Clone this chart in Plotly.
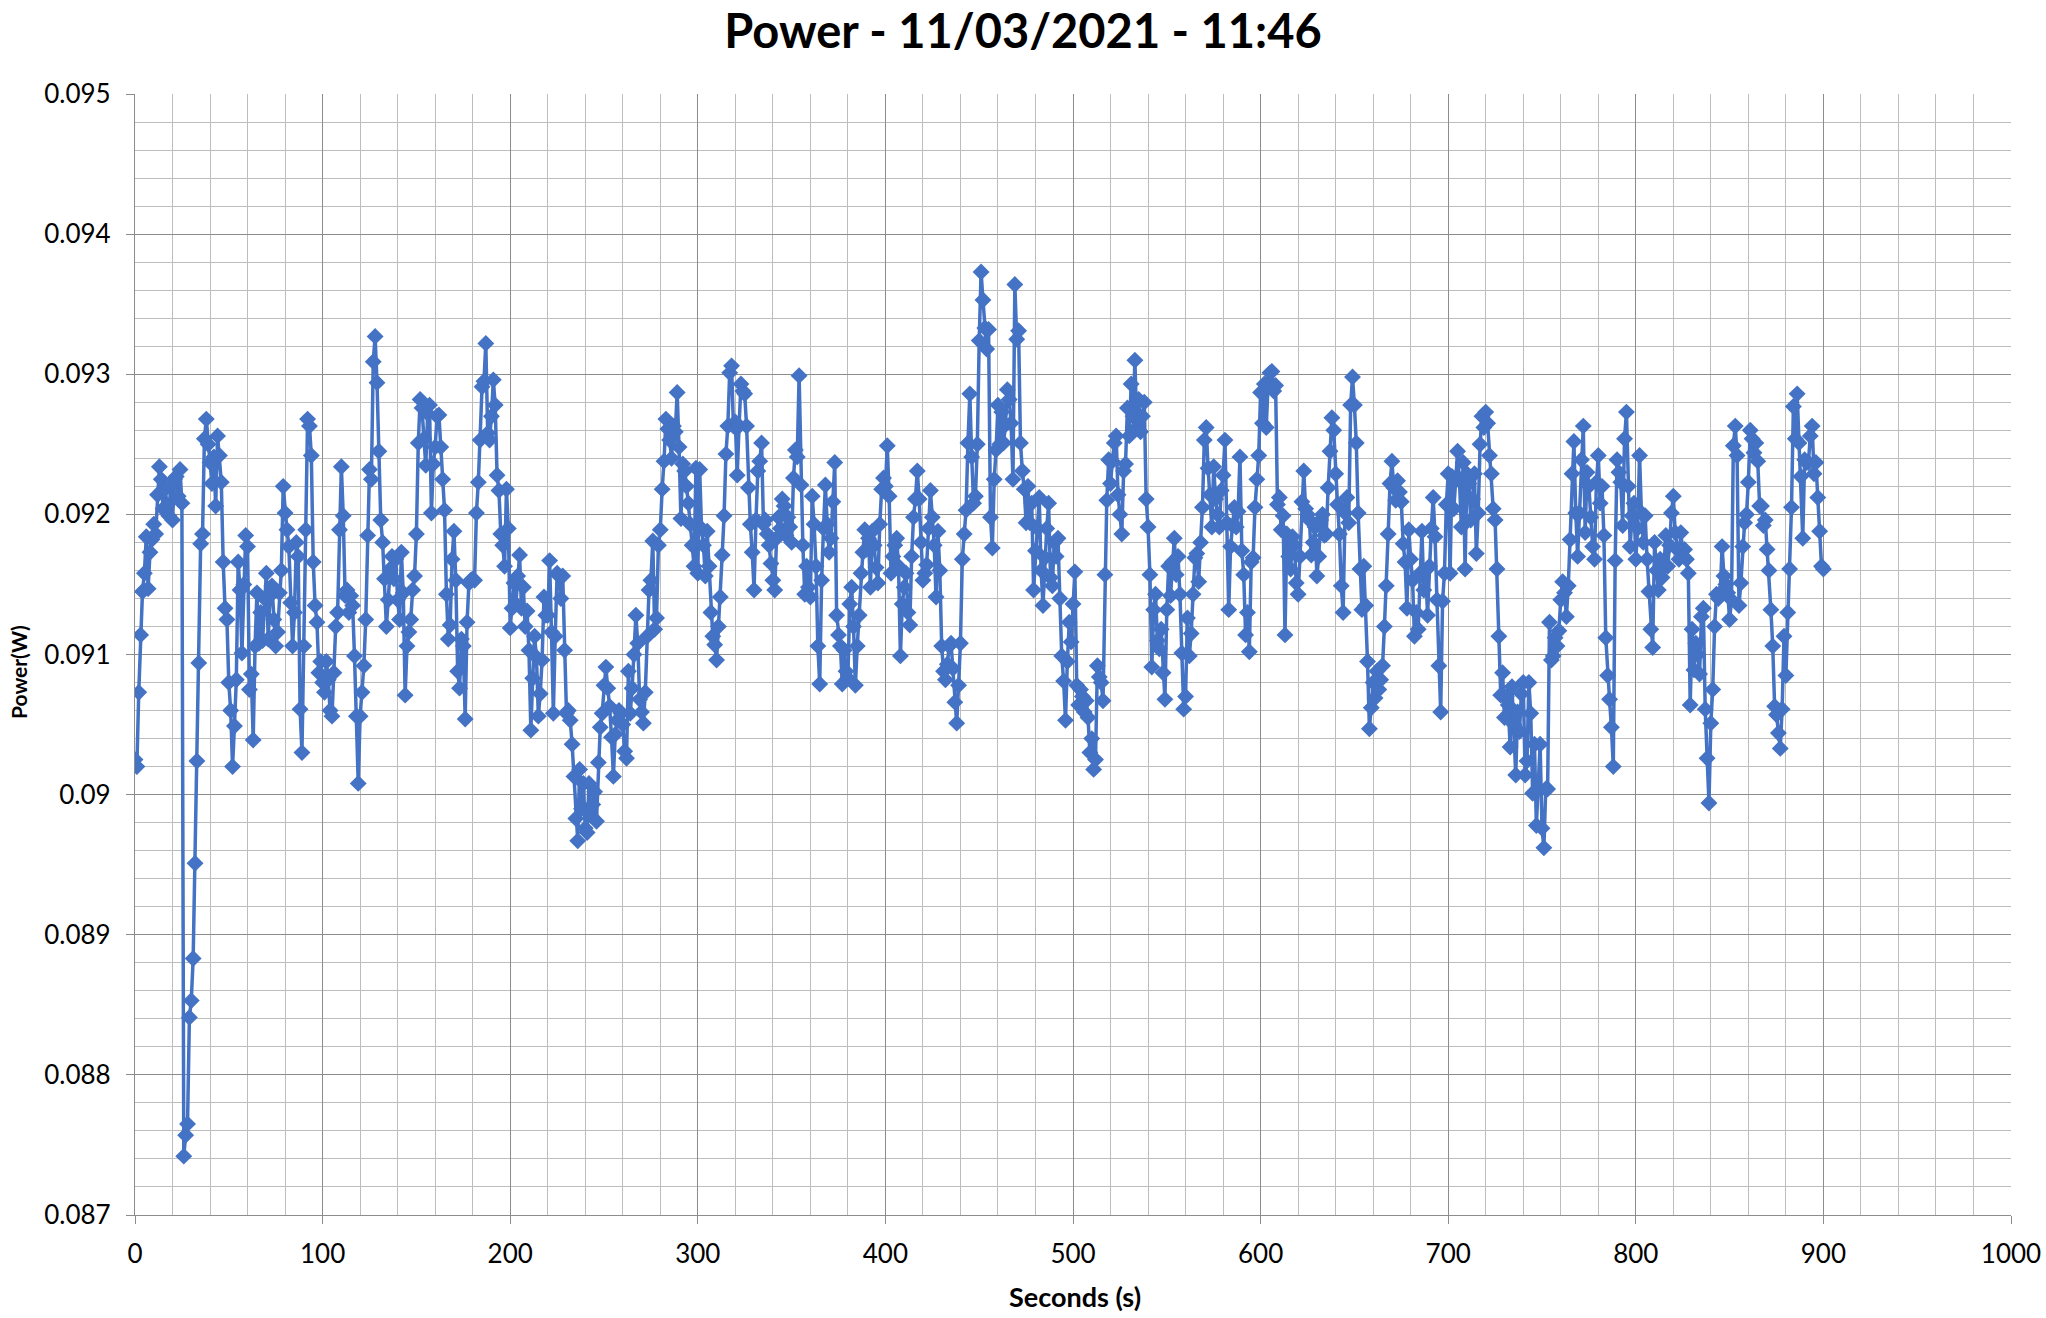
import plotly.graph_objects as go

# Power readings in microwatts, one per second
p000 = [90250, 90200, 90730, 91140, 91450, 91580, 91840, 91470, 91730, 91820,
        91930, 91860, 92140, 92340, 92250, 92040, 92180, 92060, 91990, 92200,
        91960, 92250, 92270, 92130, 92320, 92080, 87420, 87570, 87650, 88410,
        88530, 88830, 89510, 90240, 90940, 91790, 91860, 92540, 92680, 92500,
        92370, 92220, 92410, 92060, 92560, 92420, 92230, 91660, 91330, 91250,
        90800, 90600, 90200, 90490, 90820, 91660, 91460, 91010, 91500, 91850,
        91770, 90750, 90860, 90390, 91060, 91440, 91080, 91300, 91100, 91400,
        91580, 91110, 91420, 91490, 91250, 91060, 91160, 91440, 91600, 92200,
        92010, 91890, 91770, 91370, 91060, 91300, 91800, 91700, 90610, 90300,
        91060, 91890, 92680, 92630, 92420, 91660, 91350, 91230, 90870, 90950]
p100 = [90800, 90730, 90950, 90820, 90600, 90560, 90870, 91200, 91300, 91890,
        92340, 91990, 91420, 91460, 91300, 91420, 91350, 90990, 90560, 90080,
        90560, 90730, 90920, 91250, 91850, 92320, 92250, 93090, 93270, 92940,
        92450, 91960, 91800, 91540, 91200, 91390, 91610, 91700, 91540, 91680,
        91390, 91250, 91730, 91440, 90710, 91060, 91160, 91250, 91460, 91560,
        91860, 92510, 92820, 92760, 92540, 92350, 92720, 92780, 92010, 92360,
        92480, 92700, 92710, 92480, 92250, 92030, 91430, 91110, 91210, 91680,
        91880, 91530, 90880, 90760, 91110, 91060, 90540, 91230, 91510, 91530,
        91540, 91530, 92010, 92230, 92530, 92910, 92950, 93220, 92580, 92530,
        92700, 92960, 92780, 92280, 92170, 91860, 91780, 91630, 92180, 91900]
p200 = [91190, 91330, 91510, 91360, 91560, 91710, 91330, 91480, 91200, 91310,
        91030, 90460, 90830, 91130, 90980, 90560, 90720, 90960, 91410, 91280,
        91280, 91670, 91160, 90580, 91130, 91580, 91560, 91400, 91560, 91030,
        90580, 90600, 90530, 90360, 90130, 89830, 89670, 90180, 89900, 90080,
        89760, 89730, 90080, 89850, 89930, 90020, 89810, 90230, 90480, 90580,
        90780, 90910, 90760, 90630, 90410, 90130, 90430, 90530, 90600, 90580,
        90500, 90310, 90260, 90880, 90580, 90760, 91000, 91280, 91080, 90680,
        90590, 90510, 90730, 91130, 91460, 91530, 91810, 91180, 91260, 91780,
        91890, 92180, 92380, 92680, 92610, 92530, 92400, 92630, 92590, 92870,
        92480, 91970, 92360, 92310, 92200, 92080, 91930, 91780, 91630, 92330]
p300 = [91580, 92320, 91900, 91780, 91560, 91880, 91630, 91300, 91130, 91070,
        90960, 91200, 91410, 91710, 91990, 92430, 92630, 93010, 93060, 92630,
        92660, 92280, 92630, 92930, 92880, 92860, 92630, 92190, 91930, 91730,
        91460, 91960, 92310, 92380, 92510, 91930, 91960, 91860, 91780, 91650,
        91530, 91460, 91830, 91980, 91900, 92110, 92060, 91850, 91980, 91910,
        91800, 92260, 92460, 92410, 92990, 92210, 91780, 91430, 91630, 91480,
        91410, 92130, 91930, 91630, 91060, 90790, 91530, 91900, 92210, 91930,
        91730, 91830, 92090, 92370, 91280, 91140, 91060, 90790, 91030, 90880,
        90830, 91360, 91480, 91200, 90780, 91060, 91280, 91580, 91730, 91890,
        91750, 91830, 91480, 91880, 91780, 91620, 91510, 91930, 92180, 92260]
p400 = [92200, 92490, 92130, 91580, 91700, 91780, 91830, 91630, 90990, 91360,
        91480, 91580, 91300, 91210, 91700, 91980, 92110, 92310, 92110, 91800,
        91530, 91580, 91640, 91900, 92170, 91980, 91780, 91410, 91880, 91600,
        91060, 90880, 90820, 90930, 91060, 91080, 90900, 90660, 90510, 90780,
        91080, 91680, 91860, 92030, 92510, 92860, 92410, 92080, 92130, 92500,
        93240, 93730, 93530, 93330, 93180, 93320, 91980, 91760, 92250, 92460,
        92780, 92500, 92730, 92510, 92640, 92890, 92820, 92650, 92250, 93640,
        93250, 93310, 92510, 92310, 92180, 91940, 92200, 91940, 92080, 91460,
        91740, 91900, 92120, 91600, 91350, 91690, 91900, 92080, 91550, 91490,
        91800, 91700, 91830, 91400, 90990, 90810, 90530, 90950, 91230, 91090]
p500 = [91360, 91590, 90780, 90640, 90750, 90700, 90590, 90670, 90550, 90300,
        90400, 90180, 90250, 90920, 90840, 90800, 90670, 91570, 92100, 92390,
        92220, 92380, 92510, 92560, 92140, 92000, 91860, 92310, 92360, 92760,
        92560, 92930, 92700, 93100, 92620, 92820, 92590, 92700, 92800, 92110,
        91910, 91570, 90910, 91320, 91430, 91100, 91040, 91180, 90870, 90680,
        91320, 91630, 91420, 91660, 91830, 91570, 91700, 91430, 91010, 90610,
        90700, 91260, 90990, 91150, 91430, 91690, 91720, 91520, 91800, 92050,
        92530, 92620, 92330, 92140, 91910, 92340, 92110, 92000, 91910, 92170,
        92280, 92530, 91940, 91320, 91770, 91920, 92050, 91910, 92020, 92410,
        91740, 91570, 91140, 91300, 91020, 91660, 91690, 92050, 92250, 92420]
p600 = [92870, 92650, 92930, 92620, 92930, 93010, 93020, 92880, 92920, 92070,
        92120, 91890, 91990, 91140, 91860, 91700, 91610, 91840, 91780, 91510,
        91430, 91700, 92090, 92310, 92040, 92000, 91960, 91710, 91800, 91910,
        91560, 91700, 91960, 92000, 91850, 91860, 92190, 92450, 92690, 92600,
        92290, 92070, 91860, 91490, 91300, 92010, 92120, 91940, 92780, 92980,
        92780, 92510, 92010, 91610, 91320, 91630, 91350, 90950, 90470, 90620,
        90800, 90690, 90880, 90750, 90820, 90920, 91200, 91490, 91860, 92220,
        92380, 92190, 92100, 92240, 92160, 92090, 91790, 91660, 91330, 91890,
        91680, 91530, 91130, 91300, 91180, 91580, 91880, 91460, 91600, 91280,
        91630, 91900, 92120, 91840, 91390, 90920, 90590, 91380, 91580, 92070]
p700 = [92290, 91580, 92270, 92040, 92260, 92450, 92240, 91910, 92370, 91610,
        92290, 92220, 91960, 92110, 92290, 91720, 92010, 92500, 92700, 92620,
        92730, 92650, 92420, 92290, 92040, 91960, 91610, 91130, 90710, 90870,
        90550, 90700, 90640, 90340, 90770, 90500, 90140, 90590, 90450, 90720,
        90800, 90140, 90240, 90800, 90580, 90010, 90360, 89780, 90040, 90360,
        89760, 89620, 90040, 90040, 91230, 90960, 90990, 91120, 91060, 91170,
        91390, 91520, 91440, 91270, 91490, 91820, 92290, 92520, 92010, 91700,
        92010, 92390, 92630, 91870, 92300, 92200, 91980, 91770, 91680, 92230,
        92420, 92080, 92200, 91850, 91120, 90850, 90680, 90480, 90200, 91670,
        92390, 92300, 92230, 91920, 92540, 92730, 92200, 91770, 91990, 92080]
p800 = [91680, 91900, 92420, 92010, 91800, 91990, 91680, 91450, 91180, 91050,
        91800, 91600, 91460, 91680, 91550, 91630, 91850, 91630, 91780, 92010,
        92130, 91870, 91750, 91680, 91870, 91740, 91750, 91680, 91580, 90640,
        91180, 90890, 91080, 91000, 90860, 91270, 91330, 90610, 90260, 89940,
        90510, 90750, 91200, 91430, 91400, 91440, 91770, 91560, 91500, 91440,
        91250, 91390, 92490, 92630, 92420, 91350, 91510, 91770, 91940, 92000,
        92230, 92600, 92540, 92440, 92510, 92380, 92060, 92060, 91920, 91960,
        91750, 91600, 91320, 91060, 90630, 90570, 90440, 90330, 90610, 91130,
        90850, 91300, 91610, 92050, 92770, 92540, 92860, 92510, 92270, 91830,
        92390, 92370, 92370, 92560, 92630, 92290, 92370, 92120, 91880, 91630,
        91610]

power_uw = p000 + p100 + p200 + p300 + p400 + p500 + p600 + p700 + p800
power_w = [v / 1e6 for v in power_uw]
seconds = list(range(len(power_w)))

x_ticks = [0, 100, 200, 300, 400, 500, 600, 700, 800, 900, 1000]
y_ticks = [0.087, 0.088, 0.089, 0.090, 0.091, 0.092, 0.093, 0.094, 0.095]
y_tick_text = ["0.087", "0.088", "0.089", "0.09", "0.091", "0.092", "0.093", "0.094", "0.095"]

BLUE = "#4472C4"
FONT = "Lato"

W, H = 2046, 1318
L, T, PW, PH = 135, 94, 1876, 1121

fig = go.Figure()
fig.add_trace(go.Scatter(
    x=seconds, y=power_w, mode="lines+markers",
    line=dict(color=BLUE, width=3.5),
    marker=dict(symbol="diamond", size=13, color=BLUE),
    showlegend=False,
))

fig.update_layout(
    width=W, height=H,
    margin=dict(l=L, r=W - L - PW, t=T, b=H - T - PH, autoexpand=False),
    paper_bgcolor="white", plot_bgcolor="white",
    font=dict(family=FONT, color="#000000", size=26),
    title=dict(text="<b>Power - 11/03/2021 - 11:46</b>", x=0.5, xanchor="center",
               y=1 - 32 / H, yanchor="middle",
               font=dict(family=FONT, size=47, color="#000000")),
    annotations=[
        dict(text="<b>Seconds (s)</b>", xref="paper", yref="paper",
             x=(1075 - L) / PW, y=-(1296 - T - PH) / PH,
             xanchor="center", yanchor="middle", showarrow=False,
             font=dict(family=FONT, size=27, color="#000000")),
        dict(text="<b>Power(W)</b>", xref="paper", yref="paper",
             x=(18 - L) / PW, y=1 - (672 - T) / PH, textangle=-90,
             xanchor="center", yanchor="middle", showarrow=False,
             font=dict(family=FONT, size=21, color="#000000")),
    ],
)

fig.update_xaxes(
    range=[0, 1000], tickvals=x_ticks, ticktext=[str(t) for t in x_ticks],
    automargin=False, ticklabeloverflow="allow",
    showgrid=True, gridcolor="#8c8c8c", gridwidth=1.3,
    minor=dict(dtick=20, tick0=0, showgrid=True, gridcolor="#bdbdbd", gridwidth=1,
               ticks=""),
    showline=True, linecolor="#8c8c8c", linewidth=1.3,
    ticks="outside", ticklen=8, tickcolor="#8c8c8c",
    ticklabelstandoff=8,
    zeroline=False,
)
fig.update_yaxes(
    range=[0.087, 0.095], tickvals=y_ticks, ticktext=y_tick_text,
    automargin=False, ticklabeloverflow="allow",
    showgrid=True, gridcolor="#8c8c8c", gridwidth=1.3,
    minor=dict(dtick=0.0002, tick0=0.087, showgrid=True, gridcolor="#bdbdbd", gridwidth=1,
               ticks=""),
    showline=True, linecolor="#8c8c8c", linewidth=1.3,
    ticks="outside", ticklen=8, tickcolor="#8c8c8c",
    ticklabelstandoff=10,
    zeroline=False,
)

# Remove the page's default body margin so the figure fills the window exactly.
fig.write_html("out.html",
               config={"displayModeBar": False},
               post_script="document.body.style.margin='0px';document.body.style.overflow='hidden';")
